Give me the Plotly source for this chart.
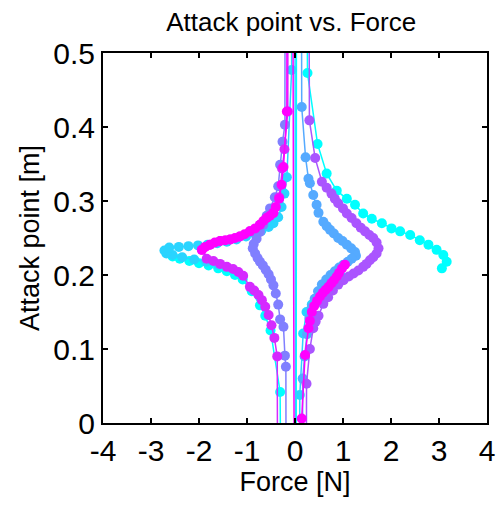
import plotly.graph_objects as go

# Series colours (MATLAB "cool"-like progression)
colors = ["#00FFFF", "#2AD4FF", "#55AAFF", "#807FFF", "#AA55FF", "#D52AFF", "#FF00FF"]

# Force [N] and attack point [m] per series (large |y| values = attack point diverging as force -> 0)
x1 = [3.06, 3.16, 3.09, 2.95, 2.78, 2.60, 2.40, 2.19, 2.01, 1.81, 1.60, 1.42, 1.25, 1.08, 0.87, 0.66, 0.47, 0.26,
      0.05, 0.0, -0.31, -0.51, -0.62, -0.73, -0.90, -1.09, -1.25, -1.42, -1.60, -1.80, -2.00, -2.20, -2.40, -2.55]
y1 = [0.209, 0.218, 0.227, 0.234, 0.241, 0.247, 0.254, 0.259, 0.263, 0.270, 0.276, 0.283, 0.295, 0.303, 0.314, 0.337, 0.377, 0.473,
      3.0, -3.0, 0.042, 0.125, 0.145, 0.159, 0.178, 0.194, 0.200, 0.205, 0.209, 0.213, 0.216, 0.219, 0.222, 0.225]

x2 = [-1.60, -1.85, -2.10, -2.35, -2.55, -2.68, -2.72, -2.62, -2.42, -2.22, -2.02, -1.82, -1.62, -1.42, -1.22, -1.02, -0.85,
      -0.70, -0.55, -0.45, -0.35, -0.28, -0.22, -0.17, -0.07, -0.04, 0.06, 0.10, 0.17, 0.24, 0.35, 0.45, 0.55, 0.65, 0.75, 0.85, 0.95]
y2 = [0.214, 0.218, 0.221, 0.224, 0.227, 0.229, 0.233, 0.237, 0.238, 0.239, 0.240, 0.241, 0.243, 0.245, 0.248, 0.252, 0.256,
      0.260, 0.265, 0.270, 0.278, 0.292, 0.310, 0.332, 0.477, 3.0, -3.0, 0.038, 0.121, 0.150, 0.160, 0.166, 0.175, 0.182, 0.188, 0.194, 0.199]

x3 = [0.06, 0.14, 0.22, 0.28, 0.31, 0.38, 0.45, 0.49, 0.59, 0.66, 0.73, 0.81, 0.90, 0.99, 1.08, 1.17, 1.25, 1.27, 1.18, 1.10,
      1.01, 0.92, 0.83, 0.74, 0.65, 0.56, 0.48, 0.41, 0.35, 0.30, 0.25, 0.20, 0.16, 0.08]
y3 = [3.0, 0.427, 0.359, 0.330, 0.324, 0.308, 0.295, 0.284, 0.272, 0.266, 0.261, 0.256, 0.250, 0.246, 0.241, 0.236, 0.231, 0.226, 0.222, 0.218,
      0.214, 0.210, 0.205, 0.200, 0.194, 0.187, 0.178, 0.168, 0.157, 0.142, 0.120, 0.090, 0.060, -3.0]

x4 = [-0.17, -0.21, -0.26, -0.31, -0.35, -0.42, -0.52, -0.59, -0.66, -0.73, -0.80, -0.86, -0.88, -0.83, -0.78, -0.73, -0.67,
      -0.61, -0.55, -0.50, -0.45, -0.40, -0.35, -0.31, -0.24, -0.21, -0.19, -0.12]
y4 = [3.0, 0.403, 0.380, 0.349, 0.320, 0.305, 0.290, 0.280, 0.268, 0.258, 0.249, 0.242, 0.236, 0.229, 0.223, 0.218, 0.213,
      0.207, 0.201, 0.194, 0.186, 0.175, 0.160, 0.140, 0.130, 0.091, 0.076, -3.0]

x5 = [0.20, 0.30, 0.42, 0.56, 0.66, 0.76, 0.83, 0.90, 1.00, 1.08, 1.18, 1.28, 1.37, 1.46, 1.55, 1.63, 1.70, 1.74, 1.70, 1.63,
      1.56, 1.49, 1.42, 1.32, 1.22, 1.12, 1.01, 0.90, 0.79, 0.69, 0.59, 0.49, 0.43, 0.38, 0.31, 0.24, 0.17]
y5 = [3.0, 0.409, 0.358, 0.326, 0.318, 0.310, 0.303, 0.297, 0.290, 0.283, 0.277, 0.270, 0.264, 0.259, 0.254, 0.250, 0.244, 0.236, 0.229, 0.224,
      0.220, 0.215, 0.211, 0.206, 0.202, 0.198, 0.193, 0.187, 0.179, 0.170, 0.161, 0.145, 0.137, 0.128, 0.100, 0.053, -3.0]

x6 = [-0.10, -0.15, -0.22, -0.27, -0.33, -0.45, -0.59, -0.73, -0.94, -1.15, -1.35, -1.56, -1.77, -1.94, -1.84, -1.70, -1.56,
      -1.42, -1.29, -1.18, -1.08, -0.94, -0.85, -0.76, -0.69, -0.62, -0.55, -0.49, -0.43, -0.37, -0.25]
y6 = [3.0, 0.421, 0.370, 0.344, 0.305, 0.284, 0.277, 0.268, 0.259, 0.252, 0.248, 0.246, 0.241, 0.234, 0.222, 0.219, 0.215,
      0.211, 0.208, 0.204, 0.199, 0.184, 0.179, 0.173, 0.166, 0.157, 0.146, 0.132, 0.115, 0.090, -3.0]

x7 = [1.04, 0.98, 0.92, 0.87, 0.81, 0.76, 0.70, 0.64, 0.58, 0.52, 0.46, 0.40, 0.35, 0.31, 0.28, 0.21, 0.14, 0.10, -0.14,
      -0.17, -0.24, -0.28, -0.33, -0.40, -0.45, -0.52, -0.59, -0.66, -0.73, -0.83, -0.94, -1.05, -1.15, -1.25, -1.35, -1.45,
      -1.56, -1.67, -1.77, -1.87, -1.94]
y7 = [0.214, 0.209, 0.203, 0.198, 0.193, 0.189, 0.184, 0.180, 0.176, 0.171, 0.165, 0.158, 0.150, 0.138, 0.128, 0.092, 0.006, -3.0, 3.0,
      0.421, 0.346, 0.322, 0.303, 0.292, 0.284, 0.280, 0.277, 0.273, 0.268, 0.263, 0.259, 0.255, 0.252, 0.250, 0.248, 0.247,
      0.246, 0.244, 0.241, 0.238, 0.234]

xs = [x1, x2, x3, x4, x5, x6, x7]
ys = [y1, y2, y3, y4, y5, y6, y7]

x_ticks = [-4, -3, -2, -1, 0, 1, 2, 3, 4]
y_ticks = [0, 0.1, 0.2, 0.3, 0.4, 0.5]

FONT = "Liberation Sans, Arial, sans-serif"

fig = go.Figure()
for xv, yv, c in zip(xs, ys, colors):
    fig.add_trace(go.Scatter(
        x=xv, y=yv, mode="lines+markers",
        line=dict(color=c, width=1.5),
        marker=dict(color=c, size=10, line=dict(width=0)),
        cliponaxis=True, showlegend=False,
    ))

axis_common = dict(
    showgrid=False, zeroline=False, showline=True, linecolor="black", linewidth=2,
    mirror="ticks", ticks="inside", ticklen=5, tickwidth=1.5, tickcolor="black",
    tickfont=dict(family=FONT, size=30, color="black"), automargin=False,
)

fig.update_layout(
    width=499, height=505,
    margin=dict(l=103, r=12, t=53, b=82),
    paper_bgcolor="white", plot_bgcolor="white",
    title=dict(text="Attack point vs. Force", x=0.49, xref="paper", y=0.957, yref="container",
               xanchor="center", yanchor="middle",
               font=dict(family=FONT, size=26, color="black")),
    xaxis=dict(range=[-4, 4], tickvals=x_ticks, ticktext=[str(v) for v in x_ticks],
               title=dict(text="Force [N]", font=dict(family=FONT, size=27, color="black"), standoff=2),
               **axis_common),
    yaxis=dict(range=[0, 0.5], tickvals=y_ticks, ticktext=["0", "0.1", "0.2", "0.3", "0.4", "0.5"],
               title=dict(text="Attack point [m]", font=dict(family=FONT, size=27, color="black"), standoff=6),
               **axis_common),
)

fig.write_html("out.html", config={"displayModeBar": False},
               post_script="document.body.style.margin='0';")
